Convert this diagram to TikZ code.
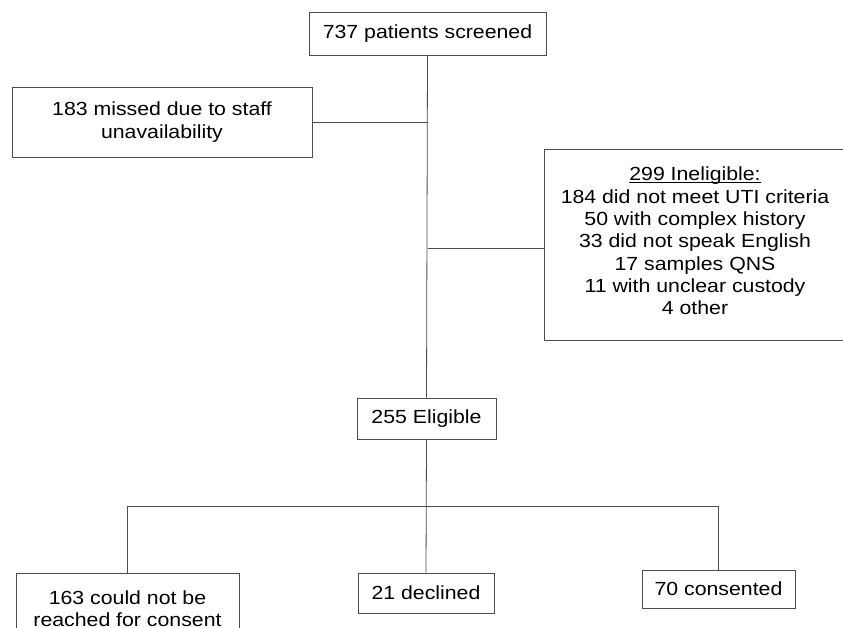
\documentclass[tikz,border=0pt]{standalone}
\usepackage{fontspec}
\setmainfont{Liberation Sans}[FakeStretch=1.12]
\usepackage{tikz}
\usetikzlibrary{positioning, calc}
\newcommand{\headline}[1]{\setbox0\hbox{#1}\rlap{\rule[-2pt]{\wd0}{0.9pt}}\box0}

\begin{document}
\begin{tikzpicture}[x=1pt, y=-1pt,
    flowbox/.style={draw=black!70, line width=0.8pt, align=center,
      inner sep=0pt, font=\fontsize{19}{22.3}\selectfont},
    link/.style={draw=black!70, line width=0.8pt}]
  \useasboundingbox (0,0) rectangle (843,628);
  \node[flowbox, minimum width=237pt, minimum height=43pt] (screened)
    at (427.5,33.5) {737 patients screened};
  \node[flowbox, minimum width=300pt, minimum height=70pt] (missed)
    at (162,122) {183 missed due to staff\\unavailability};
  \node[flowbox, minimum width=302pt, minimum height=191pt] (inelig)
    at (695,244.5) {\headline{299 Ineligible:}\\184 did not meet UTI criteria\\
      50 with complex history\\33 did not speak English\\17 samples QNS\\
      11 with unclear custody\\4 other\rule[-7pt]{0pt}{7pt}};
  \node[flowbox, minimum width=139pt, minimum height=41pt] (eligible)
    at (426.5,418.5) {255 Eligible};
  \node[flowbox, minimum width=223pt, minimum height=72pt] (unreached)
    at (127.5,609) {163 could not be\\reached for consent};
  \node[flowbox, minimum width=136pt, minimum height=40pt] (declined)
    at (426,593) {21 declined};
  \node[flowbox, minimum width=153pt, minimum height=38pt] (consented)
    at (718.5,589) {70 consented};
  \coordinate (split) at ($(eligible.south)+(0,67)$);
  % trunk and side exits
  \draw[link] (screened.south) -- (eligible.north);
  \draw[link] (missed.east) -- (missed.east -| screened.south);
  \draw[link] ([yshift=-4pt]inelig.west) -- ([yshift=-4pt]inelig.west -| screened.south);
  % split after eligibility
  \draw[link] (eligible.south) -- (declined.north);
  \draw[link] (unreached.north) |- (split) -| (consented.north);
\end{tikzpicture}
\end{document}
